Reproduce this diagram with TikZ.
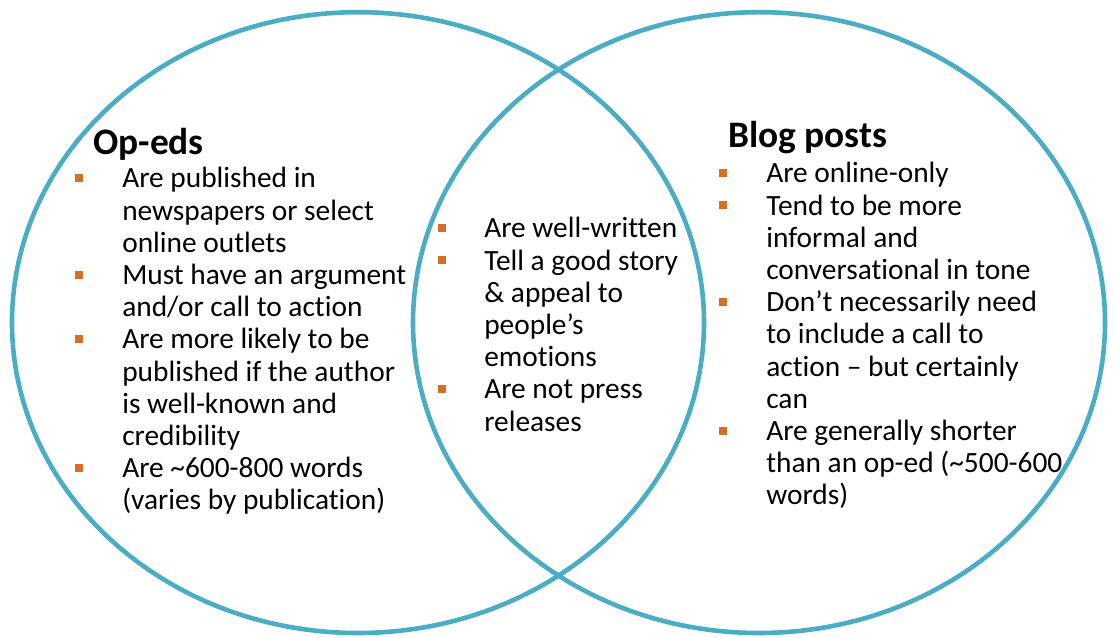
\documentclass[tikz,border=0pt]{standalone}
\usepackage{fontspec}
\setmainfont[Ligatures=NoCommon]{Carlito}
\usepackage{tikz}
\definecolor{vennblue}{RGB}{75,172,198}
\definecolor{bulorange}{RGB}{214,110,38}
\newcommand{\bul}{\textcolor{bulorange}{\raisebox{0.15cm}{\rule{0.2cm}{0.2cm}}}}
\tikzset{
  venn/.style={draw=vennblue,line width=0.115cm},
  heading/.style={anchor=base west,inner sep=0pt,font=\fontsize{26.6}{30}\selectfont\bfseries},
  itemlist/.style={anchor=base west,inner sep=0pt,font=\fontsize{20.9}{22.9}\selectfont}
}

\begin{document}
\begin{tikzpicture}
        \useasboundingbox (0,0) rectangle (27.825,15.925);
        \draw[venn] (8.95,7.86) ellipse (8.65 and 7.76);
        \draw[venn] (18.975,7.86) ellipse (8.65 and 7.76);

        \node[heading] (opeds) at (2.325,12.05) {Op-eds};
        \node[itemlist] (oplist) at (1.875,11.225) {%
          \begin{tabular}[t]{@{}p{1.175cm}@{}l@{}}
          \bul & Are published in\\
               & newspapers or select\\
               & online outlets\\
          \bul & Must have an argument\\
               & and/or call to action\\
          \bul & Are more likely to be\\
               & published if the author\\
               & is well-known and\\
               & credibility\\
          \bul & Are \textasciitilde600-800 words\\
               & (varies by publication)
          \end{tabular}};

        \node[itemlist] (bothlist) at (10.95,9.975) {%
          \begin{tabular}[t]{@{}p{1.15cm}@{}l@{}}
          \bul & Are well-written\\
          \bul & Tell a good story\\
               & \& appeal to\\
               & people’s\\
               & emotions\\
          \bul & Are not press\\
               & releases
          \end{tabular}};

        \node[heading] (blogs) at (18.2,12.225) {Blog posts};
        \node[itemlist] (bloglist) at (17.975,11.35) {%
          \begin{tabular}[t]{@{}p{1.175cm}@{}l@{}}
          \bul & Are online-only\\
          \bul & Tend to be more\\
               & informal and\\
               & conversational in tone\\
          \bul & Don’t necessarily need\\
               & to include a call to\\
               & action – but certainly\\
               & can\\
          \bul & Are generally shorter\\
               & than an op-ed (\textasciitilde500-600\\
               & words)
          \end{tabular}};
    \end{tikzpicture}
\end{document}
